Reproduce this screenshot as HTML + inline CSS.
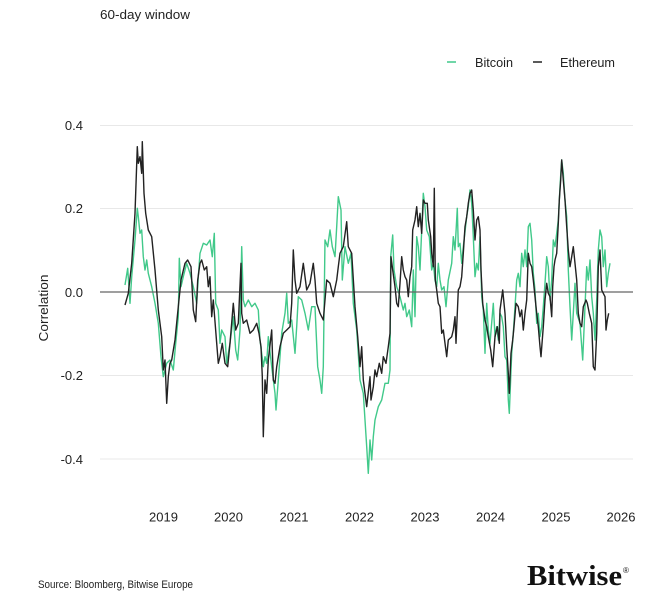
<!DOCTYPE html>
<html>
<head>
<meta charset="utf-8">
<style>
html,body{margin:0;padding:0;background:#fff;}
svg{display:block;}
text{font-family:"Liberation Sans",sans-serif;fill:#222;}
</style>
</head>
<body>
<svg width="671" height="610" viewBox="0 0 671 610" xmlns="http://www.w3.org/2000/svg">
<rect width="671" height="610" fill="#fff"/>
<text x="100" y="19" font-size="13" textLength="90" lengthAdjust="spacingAndGlyphs">60-day window</text>
<line x1="447" y1="62" x2="456" y2="62" stroke="#41c98a" stroke-width="1.5"/>
<text x="475" y="67" font-size="13" textLength="38" lengthAdjust="spacingAndGlyphs">Bitcoin</text>
<line x1="533" y1="62" x2="542" y2="62" stroke="#222" stroke-width="1.5"/>
<text x="560" y="67" font-size="13" textLength="55" lengthAdjust="spacingAndGlyphs">Ethereum</text>

<g stroke="#e8e8e8" stroke-width="1">
<line x1="100" y1="125.5" x2="633" y2="125.5"/>
<line x1="100" y1="208.5" x2="633" y2="208.5"/>
<line x1="100" y1="375.5" x2="633" y2="375.5"/>
<line x1="100" y1="459" x2="633" y2="459"/>
</g>

<g font-size="13" text-anchor="end">
<text x="83" y="130">0.4</text>
<text x="83" y="213">0.2</text>
<text x="83" y="297">0.0</text>
<text x="83" y="380">-0.2</text>
<text x="83" y="464">-0.4</text>
</g>
<text transform="translate(48,308) rotate(-90)" font-size="13" text-anchor="middle" textLength="67" lengthAdjust="spacingAndGlyphs">Correlation</text>

<g font-size="13" text-anchor="middle">
<text x="163.5" y="521.5">2019</text>
<text x="228.5" y="521.5">2020</text>
<text x="294" y="521.5">2021</text>
<text x="359.5" y="521.5">2022</text>
<text x="425" y="521.5">2023</text>
<text x="490.5" y="521.5">2024</text>
<text x="556" y="521.5">2025</text>
<text x="621" y="521.5">2026</text>
</g>

<polyline fill="none" stroke="#41c98a" stroke-width="1.4" stroke-linejoin="round" points="
125,285 127.7,268.3 130,303.3 131.7,276.7 135,240 137.3,208.3 138.3,216.7 140,233.3 141.7,230 143.3,256.7 145,270 146.7,260 148.3,273.3 151.7,286.7 155,303.3 158.3,323.3 161,356.7 163.3,376.7 166.7,363.3 170,360 173.3,370 175.7,343.3 178.3,316.7 179.3,258.3 181,286.7 183.3,276.7 186.7,263.3 190,273.3 193.3,286.7 196.7,303.3 198.3,276.7 200,253.3 203.3,243.3 206.7,245 210,240 212.3,256.7 214.3,233.3 215.7,303.3 218.3,310 220,343.3 221.7,330 225,336.7 226.7,363.3 230,343.3 233.3,316.7 235.7,350 237.7,360 240,330 241.7,246.7 243.3,300 245,306.7 248.3,300 251.7,306.7 255,303.3 258.3,310 260,340 261.7,353.3 263.3,366.7 265,356.7 266.7,363.3 268.3,336.7 271.7,366.7 275,393.3 276,410 278.3,380 281.7,333.3 285,313.3 286.7,293.3 288.3,323.3 291.7,320 295,353.3 296.7,326.7 298.3,296.7 301.7,300 305,313.3 308.3,330 311.7,306.7 315,306.7 317.7,366.7 320,380 321.7,393.3 323.3,366.7 325,240 327.7,246.7 330,230 332.3,246.7 335,256.7 336.7,226.7 338.3,196.7 341,210 342.3,280 345,246.7 348.3,263.3 351,253.3 353.3,303.3 356.7,330 360,380 363.3,393.3 365,420 366.7,446.7 368.3,473.3 370,440 371.7,460 373.3,436.7 375,420 378.3,406.7 381.7,400 385,383.3 388.3,383.3 390,370 390.7,256.7 392.7,235 394,270 396.7,286.7 400,296.7 403.3,310 405,303.3 406.7,316.7 409.3,310 411.7,326.7 413.3,270 415,316.7 416.7,236.7 418.3,246.7 420,270 421.7,230 423.3,193.3 425,206.7 426.7,230 429.3,236.7 431.7,270 433.3,263.3 435,280 436.7,286.7 438.3,263.3 440,280 441.7,290 444,286.7 446,306.7 448.3,280 451.7,263.3 453.3,236.7 455,250 457.3,208.3 458.3,246.7 460,243.3 461.7,263.3 463.3,246.7 466.7,216.7 468.3,206.7 470,190 471.7,203.3 473.3,236.7 475,276.7 476.7,263.3 478.3,270 480,236.7 481.7,296.7 483.3,310 485,353.3 486.7,303.3 488.3,330 490,343.3 493.3,303.3 495,336.7 496.7,326.7 498.3,340 500,313.3 501.7,316.7 503.3,326.7 505,356.7 506.7,360 508.3,400 509.3,413.3 511.7,353.3 513.3,333.3 515,306.7 516.7,280 518.3,273.3 520,286.7 521.7,253.3 523.3,266.7 525,250 526.7,266.7 528.3,226.7 530,223.3 531.7,240 533.3,273.3 535,290 536.7,323.3 538.3,313.3 540,336.7 541.7,326.7 543.3,306.7 545,283.3 546.7,256.7 548.3,266.7 550,300 551.7,280 553.3,240 555,246.7 556.7,233.3 558.3,220 560,186.7 561,170 561.7,160 563.3,173.3 565,200 566.7,216.7 568.3,270 570,306.7 571.7,340 573.3,313.3 575,283.3 576.7,313.3 580,323.3 582.7,360 585,306.7 586.7,266.7 588.3,280 590,260 591.7,296.7 593.3,313.3 595,340 596.7,300 598.3,250 600,230 601.7,236.7 603.3,266.7 605,250 606.7,286.7 608.3,273.3 610,263.3"/>

<line x1="100" y1="292" x2="633" y2="292" stroke="#666" stroke-width="1.2"/>

<polyline fill="none" stroke="#222" stroke-width="1.4" stroke-linejoin="round" points="
125,305 128.3,293.3 131.7,263.3 135,213.3 137.3,146.7 138.3,163.3 140,156.7 141.7,173.3 142.3,141.7 144,193.3 145.7,213.3 148.3,230 151.7,236.7 155,270 158.3,310 161.7,336.7 163.3,370 165,360 166.7,403.3 168.3,376.7 170,363.3 171.7,360 175,340 178.3,306.7 181,280 185,263.3 187.7,260 191,266.7 193.3,310 195.7,321.7 197.7,280 200,263.3 201.7,260 204.3,270 206.7,266.7 208.3,286.7 210,276.7 211.7,316.7 213.3,300 216.7,343.3 218.3,363.3 220,356.7 222.3,343.3 225,363.3 227.7,366.7 230,343.3 233.3,303.3 235.7,330 238.3,323.3 241,263.3 241.7,313.3 243.3,323.3 246.7,320 250,333.3 253.3,330 256.7,323.3 259,333.3 261,346.7 262.3,376.7 263.3,436.7 265,380 266.7,393.3 268.3,360 271.7,330 273.3,380 275,383.3 276.7,366.7 280,346.7 283.3,333.3 286.7,330 290,326.7 291.7,303.3 293.3,250 295,280 296.7,293.3 300,286.7 303.3,263.3 306.7,290 310,283.3 313.3,263.3 315,280 316.7,303.3 320,313.3 323.3,320 326.7,280 330,283.3 333.3,296.7 336.7,280 338.3,266.7 340,253.3 343.3,246.7 346.7,221.7 348.3,246.7 351.7,253.3 355,306.7 357.7,336.7 360,366.7 361.7,346.7 363.3,380 366.7,406.7 370,376.7 371,400 373.3,386.7 375,370 376.7,376.7 379.3,363.3 381.7,373.3 383.3,356.7 386,363.3 388.3,346.7 390,333.3 391,256.7 392.7,270 395,286.7 396.7,303.3 398.3,306.7 400,283.3 401.7,256.7 403.3,270 405,276.7 406.7,280 408.3,296.7 410,276.7 411.7,266.7 412.7,230 415,220 416.7,206.7 418.3,226.7 420,213.3 421.7,233.3 423.3,200 425,203.3 427.3,203.3 428.3,220 430.7,236.7 431.7,253.3 433.3,266.7 434.3,188.3 435.3,280 436.7,290 438.3,303.3 440,306.7 441.7,333.3 443.3,330 445,343.3 446.7,356.7 448.3,340 451.7,336.7 453.3,330 455,316.7 456,343.3 458.3,290 460,286.7 461.7,276.7 463.3,253.3 465,226.7 466.7,216.7 468.3,203.3 470,193.3 471.7,190 473.3,210 475,240 476.7,220 478.3,216.7 480,230 481,270 482.7,303.3 485,320 486.7,326.7 488.3,336.7 490.7,350 492.7,366.7 495,336.7 497.3,326.7 499.3,343.3 500,310 502.7,290 505,313.3 506.7,346.7 508.3,373.3 509.3,393.3 511,353.3 512.7,340 514,326.7 516,303.3 518.3,306.7 520,316.7 521.7,310 523.3,330 525,313.3 526.7,300 528.3,253.3 530,263.3 531.7,266.7 533.3,280 535,296.7 536.7,313.3 538.3,326.7 540,346.7 541,356.7 543.3,326.7 545,300 546.7,283.3 548.3,293.3 550,296.7 551.7,316.7 552.7,286.7 554,266.7 555,260 556.7,253.3 558.3,223.3 559.3,200 560.7,180 561.7,160 563.3,180 565,200 566.7,226.7 568.3,250 570,266.7 571.7,256.7 573.3,246.7 575,263.3 576.7,280 578.3,313.3 580,323.3 581.7,326.7 583.3,306.7 586,300 587.3,303.3 589.3,313.3 591.7,323.3 593.3,366.7 595,370 596.7,333.3 598.3,266.7 600,250 601.7,290 603.3,293.3 605,296.7 606,330 607.3,320 608.7,313.3"/>

<text x="38" y="588" font-size="11" textLength="155" lengthAdjust="spacingAndGlyphs">Source: Bloomberg, Bitwise Europe</text>
<text x="527" y="585" font-size="28" font-weight="bold" textLength="95" lengthAdjust="spacingAndGlyphs" style="font-family:'Liberation Serif',serif;fill:#111;">Bitwise</text>
<text x="623" y="573" font-size="8" style="font-family:'Liberation Sans',sans-serif;fill:#111;">®</text>
</svg>
</body>
</html>
